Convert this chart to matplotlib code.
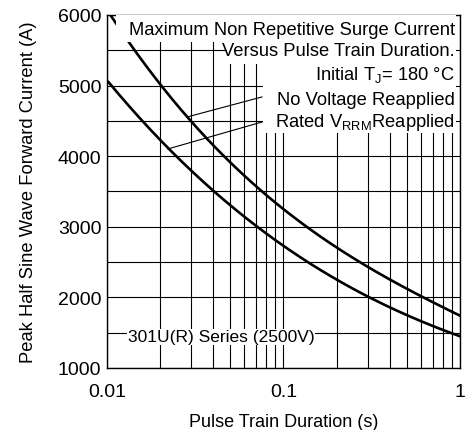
import numpy as np
import matplotlib
matplotlib.use("Agg")
import matplotlib.pyplot as plt
from matplotlib.patches import Rectangle

plt.rcParams['font.family'] = ['Liberation Sans', 'DejaVu Sans']
plt.rcParams['mathtext.fontset'] = 'custom'
plt.rcParams['mathtext.rm'] = 'Liberation Sans'
plt.rcParams['mathtext.it'] = 'Liberation Sans'

# pulse train duration (s) and surge current (A)
t_no_volt = [0.0105, 0.02, 0.03, 0.05, 0.07, 0.1, 0.2, 0.3, 0.5, 1.0]
i_no_volt = [6000, 5000, 4500, 3915, 3560, 3300, 2665, 2405, 2170, 1730]

t_rated = [0.0102, 0.02, 0.03, 0.04, 0.07, 0.1, 0.2, 0.3, 0.5, 1.0]
i_rated = [5040, 4245, 3820, 3490, 3000, 2735, 2240, 2015, 1770, 1440]

y_ticks = [1000, 2000, 3000, 4000, 5000, 6000]
x_ticks = [0.01, 0.1, 1]
x_tick_labels = ["0.01", "0.1", "1"]

fig = plt.figure(figsize=(4.65, 4.31), dpi=100)
ax = fig.add_axes([0.2301, 0.1439, 0.759, 0.819])


def smooth(t, i):
    # smooth curve through the read points in log-x
    lx = np.log10(t)
    xs = np.linspace(lx[0], lx[-1], 200)
    coef = np.polyfit(lx, i, 3)
    return 10 ** xs, np.polyval(coef, xs)


for t, i in [(t_no_volt, i_no_volt), (t_rated, i_rated)]:
    xs, ys = smooth(t, i)
    ax.plot(xs, ys, color='black', linewidth=1.9, zorder=2)

ax.set_xscale('log')
ax.set_xlim(0.01, 1)
ax.set_ylim(1000, 6000)
ax.set_xticks(x_ticks)
ax.set_xticklabels(x_tick_labels)
ax.set_yticks(y_ticks)
ax.set_yticks(np.arange(1500, 6000, 1000), minor=True)
ax.xaxis.set_minor_formatter(plt.NullFormatter())
ax.tick_params(which='both', length=0, labelsize=14)
ax.tick_params(axis='y', pad=4)
ax.tick_params(axis='x', pad=11)
ax.grid(True, which='both', color='black', linewidth=0.8)
ax.set_axisbelow(True)
for s in ax.spines.values():
    s.set_linewidth(1.0)

# white areas behind the notes
for x0, y0, x1, y1 in [(0.025, 0.9226, 0.989, 1.0),
                       (0.339, 0.861, 0.989, 0.923),
                       (0.443, 0.665, 0.989, 0.862)]:
    ax.add_patch(Rectangle((x0, y0), x1 - x0, y1 - y0, transform=ax.transAxes,
                           facecolor='white', edgecolor='none', zorder=3))

fs = 13.2
ax.text(0.986, 0.9575, "Maximum Non Repetitive Surge Current", transform=ax.transAxes,
        ha='right', va='center', fontsize=fs, zorder=4)
ax.text(0.986, 0.898, "Versus Pulse Train Duration.", transform=ax.transAxes,
        ha='right', va='center', fontsize=fs, zorder=4)
ax.text(0.986, 0.833, r"Initial T$_\mathrm{J}$= 180 °C", transform=ax.transAxes,
        ha='right', va='center', fontsize=fs, zorder=4)
ax.text(0.986, 0.762, "No Voltage Reapplied", transform=ax.transAxes,
        ha='right', va='center', fontsize=fs, zorder=4)
ax.text(0.986, 0.697, r"Rated V$_\mathrm{RRM}$Reapplied", transform=ax.transAxes,
        ha='right', va='center', fontsize=fs, zorder=4)

ax.text(0.323, 0.088, "301U(R) Series (2500V)", transform=ax.transAxes,
        ha='center', va='center', fontsize=12.5, zorder=4,
        bbox=dict(facecolor='white', edgecolor='none', pad=0.5))

# leader lines
ax.plot([0.0284, 0.0755], [4555, 4839], color='black', linewidth=0.8, zorder=4)
ax.plot([0.0221, 0.0755], [4102, 4484], color='black', linewidth=0.8, zorder=4)

ax.set_xlabel("Pulse Train Duration (s)", fontsize=13, labelpad=9)
ax.set_ylabel("Peak Half Sine Wave Forward Current (A)", fontsize=13.2, labelpad=15)

fig.savefig("out.png", dpi=100)
